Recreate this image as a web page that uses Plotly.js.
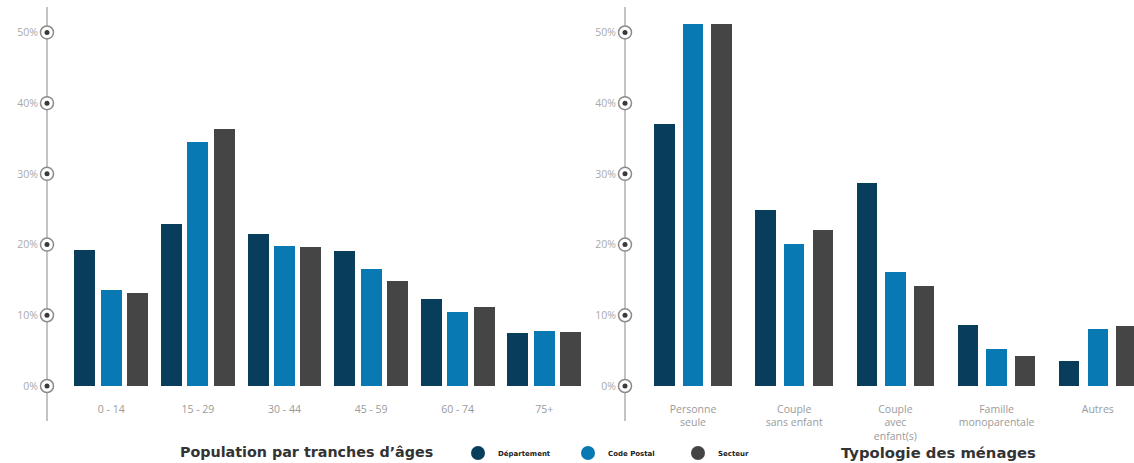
<!DOCTYPE html>
<html>
<head>
<meta charset="utf-8">
<script src="https://cdn.plot.ly/plotly-3.0.1.min.js"></script>
<style>html,body{margin:0;padding:0;background:#fff;width:1134px;height:463px;overflow:hidden;}#chart{width:1134px;height:463px;overflow:hidden;}</style>
</head>
<body>
<div id="chart"></div>
<script>
// ---- Data ----
const seriesNames = ['Département', 'Code Postal', 'Secteur'];
const seriesColors = ['#083d5b', '#0879b3', '#454545'];

const ageCats = ['0 - 14', '15 - 29', '30 - 44', '45 - 59', '60 - 74', '75+'];
const ageDept = [19.2, 22.9, 21.5, 19.1, 12.3, 7.5];
const ageCP   = [13.6, 34.5, 19.8, 16.5, 10.5, 7.8];
const ageSect = [13.1, 36.4, 19.6, 14.9, 11.2, 7.6];

const menCats = ['Personne<br>seule', 'Couple<br>sans enfant', 'Couple<br>avec<br>enfant(s)', 'Famille<br>monoparentale', 'Autres'];
const menDept = [37.0, 24.9, 28.7, 8.6, 3.5];
const menCP   = [51.2, 20.1, 16.1, 5.3, 8.1];
const menSect = [51.2, 22.0, 14.2, 4.2, 8.5];

const yTicks = [0, 10, 20, 30, 40, 50];
const yTickText = ['0%', '10%', '20%', '30%', '40%', '50%'];
const titleAge = 'Population par tranches d\u2019âges';
const titleMen = 'Typologie des ménages';

// ---- Geometry ----
const W = 1134, H = 463;
const px = v => v / W, py = v => 1 - v / H;
const leftDomain = [px(47), px(600)];
const rightDomain = [px(625), 1];
const yDomain = [py(386), py(7)];
const yRange = [0, 53.6];
const leftXRange = [-0.742, 5.643];
const rightXRange = [-0.672, 4.358];

function barTraces(cats, vals, xa, ya, slot, w) {
  return vals.map((v, k) => ({
    type: 'bar', x: cats.map((_, i) => i), y: v, xaxis: xa, yaxis: ya,
    name: seriesNames[k], marker: {color: seriesColors[k]},
    width: w, offset: (k - 1) * slot - w / 2,
    showlegend: false, hoverinfo: 'skip'
  }));
}
function tickMarkers(xr, xa, ya) {
  return [
    {type: 'scatter', mode: 'markers', x: yTicks.map(() => xr[0]), y: yTicks, xaxis: xa, yaxis: ya,
     marker: {symbol: 'circle', size: 13, color: '#fff', line: {color: '#8a8a8a', width: 1.5}},
     cliponaxis: false, showlegend: false, hoverinfo: 'skip'},
    {type: 'scatter', mode: 'markers', x: yTicks.map(() => xr[0]), y: yTicks, xaxis: xa, yaxis: ya,
     marker: {symbol: 'circle', size: 5, color: '#3a3a3a'},
     cliponaxis: false, showlegend: false, hoverinfo: 'skip'}
  ];
}

const traces = [
  ...barTraces(ageCats, [ageDept, ageCP, ageSect], 'x', 'y', 0.304, 0.2425),
  ...barTraces(menCats, [menDept, menCP, menSect], 'x2', 'y2', 0.283, 0.2025),
  ...tickMarkers(leftXRange, 'x', 'y'),
  ...tickMarkers(rightXRange, 'x2', 'y2'),
  ...seriesNames.map((n, k) => ({
    type: 'scatter', mode: 'markers', x: [null], y: [null], name: n,
    marker: {symbol: 'circle', size: 14, color: seriesColors[k]}, showlegend: true
  }))
];

const tickFont = {family: 'Open Sans, sans-serif', size: 10.5, color: '#9a9a9a'};
function xaxis(dom, rng, cats) {
  return {domain: dom, range: rng, tickvals: cats.map((_, i) => i), ticktext: cats,
          showgrid: false, zeroline: false, showline: false, ticks: '',
          ticklabelstandoff: 15, tickfont: tickFont, fixedrange: true};
}
function yaxis(anchor) {
  return {domain: yDomain, range: yRange, anchor: anchor, tickvals: yTicks, ticktext: yTickText,
          showgrid: false, zeroline: false, showline: false, ticks: '',
          ticklabelstandoff: 8, tickfont: {family: 'Open Sans, sans-serif', size: 10.5, color: '#aaaaaa'},
          fixedrange: true};
}

const axisLine = x => ({type: 'line', xref: 'paper', yref: 'paper', x0: x, x1: x,
  y0: py(7), y1: py(421), line: {color: '#c4c4c4', width: 2}, layer: 'below'});

const layout = {
  width: W, height: H, margin: {l: 0, r: 0, t: 0, b: 0, autoexpand: false},
  paper_bgcolor: '#fff', plot_bgcolor: 'rgba(0,0,0,0)',
  xaxis: xaxis(leftDomain, leftXRange, ageCats),
  yaxis: yaxis('x'),
  xaxis2: xaxis(rightDomain, rightXRange, menCats),
  yaxis2: yaxis('x2'),
  shapes: [axisLine(leftDomain[0]), axisLine(rightDomain[0])],
  showlegend: true,
  legend: {orientation: 'h', x: px(458), xanchor: 'left', y: py(453), yanchor: 'middle',
           font: {family: 'DejaVu Sans, sans-serif', size: 7, color: '#222', weight: 'bold'},
           entrywidth: 65, bgcolor: 'rgba(0,0,0,0)'},
  annotations: [
    {text: '<b>' + titleAge + '</b>', xref: 'paper', yref: 'paper', x: px(306), y: py(452),
     xanchor: 'center', yanchor: 'middle', showarrow: false,
     font: {family: 'DejaVu Sans, sans-serif', size: 14.3, color: '#333'}},
    {text: '<b>' + titleMen + '</b>', xref: 'paper', yref: 'paper', x: px(938), y: py(452),
     xanchor: 'center', yanchor: 'middle', showarrow: false,
     font: {family: 'DejaVu Sans, sans-serif', size: 14.8, color: '#333'}}
  ],
  bargap: 0, bargroupgap: 0, barmode: 'group'
};

Plotly.newPlot('chart', traces, layout, {displayModeBar: false, staticPlot: true});
</script>
</body>
</html>
